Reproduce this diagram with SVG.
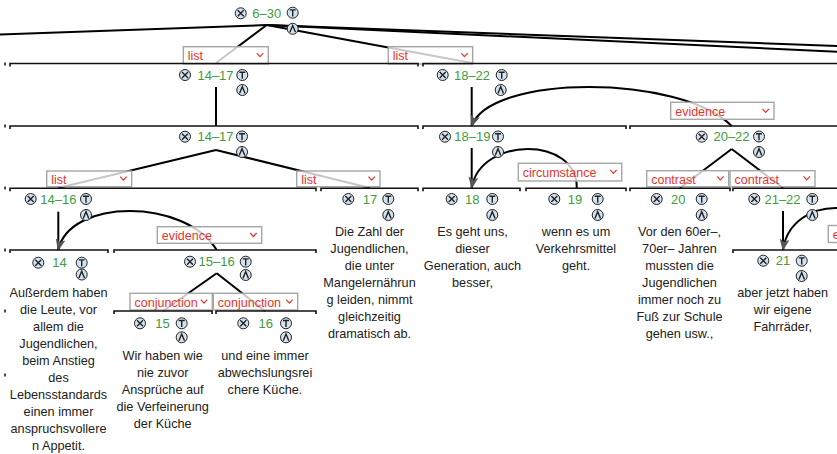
<svg xmlns="http://www.w3.org/2000/svg" width="837" height="454" viewBox="0 0 837 454">
<style>
text{font-family:"Liberation Sans",Arial,sans-serif}
.num{font-size:13px;fill:#3f9b3f;text-anchor:middle}
.edu{font-size:12.7px;fill:#222;text-anchor:middle}
.rl{font-size:12.5px;fill:#e8332b}
.bar{fill:none;stroke:#111;stroke-width:1.6}
.tk{fill:none;stroke:#111;stroke-width:1.5}
.ln{fill:none;stroke:#000;stroke-width:2}
.arc{fill:none;stroke:#000;stroke-width:2;marker-end:url(#arr)}
.box{fill:#fff;fill-opacity:0.78;stroke:#a6a6a6;stroke-width:1.4}
.chev{fill:none;stroke:#e8332b;stroke-width:1.2}
.ic{fill:#d3e2ef;stroke:#222;stroke-width:1}
.ig{fill:none;stroke:#222;stroke-width:1.4}
</style>
<defs>
<marker id="arr" viewBox="0 0 12 10" refX="11" refY="5" markerWidth="12" markerHeight="10" markerUnits="userSpaceOnUse" orient="auto"><path d="M0,0 L12,5 L0,10 L3,5 z" fill="#555"/></marker>
<g id="ix"><circle class="ic" r="5.5"/><path class="ig" d="M-3,-3 L3,3 M3,-3 L-3,3"/></g>
<g id="it"><circle class="ic" r="5.5"/><path class="ig" d="M-3,-2.8 H3 M0,-2.8 V3.8"/></g>
<g id="il"><circle class="ic" r="5.5"/><path class="ig" d="M-2.8,3.5 L0,-3.3 L2.8,3.5"/></g>
</defs>
<rect width="837" height="454" fill="#fff"/>

<g id="connectors">
  <!-- margin ticks -->
  <path class="tk" d="M5,62.5 v3 M5,124.5 v3 M5,186.5 v3 M5,248.5 v3 M5,309.5 v3 M5,373.5 v3"/>
  <!-- root lines -->
  <path class="ln" d="M266.7,25 L-10,34.8"/>
  <path class="ln" d="M266.7,25 L900,48.3"/>
  <path class="ln" d="M266.7,25 L900,54.7"/>
  <path class="ln" d="M266.7,25 L216,63"/>
  <path class="ln" d="M266.7,25 L472,63"/>
  <!-- span verticals -->
  <path class="ln" d="M216,87 V126"/>
  <path class="ln" d="M471.7,87 V126"/>
  <path class="ln" d="M471.7,148 V188"/>
  <path class="ln" d="M58.3,211.7 V250"/>
  <path class="ln" d="M783,211 V250"/>
  <!-- multinuc lines -->
  <path class="ln" d="M216,150 L58,188 M216,150 L370,188"/>
  <path class="ln" d="M731.7,149 L680,188 M731.7,149 L783,188"/>
  <path class="ln" d="M216.7,273.3 L163,311 M216.7,273.3 L265,311"/>
  <!-- arcs -->
  <path class="arc" d="M731.7,126 C680,74 490,74 471.7,126"/>
  <path class="arc" d="M576.7,188 C578,136 480,136 471.7,188"/>
  <path class="arc" d="M216.7,250 C185,198 69.4,198 58.3,250"/>
  <path class="arc" d="M890,250 C880,194 791,194 783,250"/>
  <!-- relation boxes -->
  <g id="rel-list-1417"><rect class="box" x="183.3" y="46.7" width="85" height="17.3"/><text class="rl" x="187.8" y="60.3">list</text><path class="chev" d="M256.8,53.2 L260,56.7 L263.2,53.2"/></g>
  <g id="rel-list-1822"><rect class="box" x="388.3" y="46.7" width="84.4" height="17.3"/><text class="rl" x="392.8" y="60.3">list</text><path class="chev" d="M461.2,53.2 L464.4,56.7 L467.6,53.2"/></g>
  <g id="rel-evidence-2022"><rect class="box" x="670.7" y="102.3" width="103.3" height="17"/><text class="rl" x="675.2" y="115.8">evidence</text><path class="chev" d="M762.5,108.8 L765.7,112.3 L768.9,108.8"/></g>
  <g id="rel-list-1416"><rect class="box" x="46.7" y="171" width="85" height="15.7"/><text class="rl" x="51.2" y="183.6">list</text><path class="chev" d="M120.2,176.7 L123.4,180.2 L126.6,176.7"/></g>
  <g id="rel-list-17"><rect class="box" x="296.7" y="171" width="83.3" height="15.7"/><text class="rl" x="301.2" y="183.6">list</text><path class="chev" d="M368.5,176.7 L371.7,180.2 L374.9,176.7"/></g>
  <g id="rel-circ-19"><rect class="box" x="518.3" y="163.3" width="103.4" height="17.7"/><text class="rl" x="522.8" y="177">circumstance</text><path class="chev" d="M610.2,169.8 L613.4,173.3 L616.6,169.8"/></g>
  <g id="rel-contrast-20"><rect class="box" x="646.7" y="170.7" width="82" height="16"/><text class="rl" x="651.2" y="183.5">contrast</text><path class="chev" d="M717.2,176.3 L720.4,179.8 L723.6,176.3"/></g>
  <g id="rel-contrast-2122"><rect class="box" x="730" y="170.7" width="85" height="16"/><text class="rl" x="734.5" y="183.5">contrast</text><path class="chev" d="M803.5,176.3 L806.7,179.8 L809.9,176.3"/></g>
  <g id="rel-evidence-1516"><rect class="box" x="157.3" y="226.7" width="104.4" height="16.6"/><text class="rl" x="161.8" y="240">evidence</text><path class="chev" d="M250.2,233 L253.4,236.5 L256.6,233"/></g>
  <g id="rel-conj-15"><rect class="box" x="130" y="293.3" width="82.3" height="16.7"/><text class="rl" x="134.5" y="306.6">conjunction</text><path class="chev" d="M200.8,299.6 L204,303.1 L207.2,299.6"/></g>
  <g id="rel-conj-16"><rect class="box" x="213.3" y="293.3" width="84.4" height="16.7"/><text class="rl" x="217.8" y="306.6">conjunction</text><path class="chev" d="M286.2,299.6 L289.4,303.1 L292.6,299.6"/></g>
  <g id="rel-edge"><rect class="box" x="828.3" y="225.5" width="40" height="17"/><text class="rl" x="832.8" y="238.8">evidence</text></g>
</g>

<g id="node-6-30"><use href="#ix" x="240.7" y="13.3"/><text class="num" x="266.7" y="18">6–30</text><use href="#it" x="292.7" y="12.7"/><use href="#il" x="292.7" y="28.8"/></g>

<g id="node-14-17-span"><path class="bar" d="M10,66.5 V63.5 H418 V66.5"/><use href="#ix" x="185" y="75"/><text class="num" x="215.5" y="79.7">14–17</text><use href="#it" x="242.3" y="75"/><use href="#il" x="242.3" y="90"/></g>
<g id="node-18-22"><path class="bar" d="M423,66.5 V63.5 H850"/><use href="#ix" x="442.7" y="75"/><text class="num" x="472" y="79.7">18–22</text><use href="#it" x="501.7" y="75"/><use href="#il" x="500.7" y="90"/></g>

<g id="node-14-17"><path class="bar" d="M10,129 V126 H418 V129"/><use href="#ix" x="185" y="136.7"/><text class="num" x="215.5" y="141.4">14–17</text><use href="#it" x="242" y="136.5"/><use href="#il" x="242" y="152"/></g>
<g id="node-18-19"><path class="bar" d="M423,129 V126 H626 V129"/><use href="#ix" x="445" y="136.7"/><text class="num" x="472.3" y="141.4">18–19</text><use href="#it" x="498" y="136.5"/><use href="#il" x="498" y="152"/></g>
<g id="node-20-22"><path class="bar" d="M630,129 V126 H850"/><use href="#ix" x="701.7" y="136.7"/><text class="num" x="731.5" y="141.4">20–22</text><use href="#it" x="759" y="136.5"/><use href="#il" x="759" y="152"/></g>

<g id="node-14-16"><path class="bar" d="M10,191.3 V188.3 H316 V191.3"/><use href="#ix" x="30.7" y="199"/><text class="num" x="58.3" y="203.7">14–16</text><use href="#it" x="86" y="199"/><use href="#il" x="86" y="215"/></g>
<g id="node-17"><path class="bar" d="M321,191.3 V188.3 H418 V191.3"/><use href="#ix" x="348.3" y="199"/><text class="num" x="370" y="203.7">17</text><use href="#it" x="388.3" y="199"/><use href="#il" x="388.3" y="215"/>
<text class="edu" x="369.5" y="235.5">Die Zahl der</text><text class="edu" x="369.5" y="252.5">Jugendlichen,</text><text class="edu" x="369.5" y="269.5">die unter</text><text class="edu" x="369.5" y="286.5">Mangelernährun</text><text class="edu" x="369.5" y="303.5">g leiden, nimmt</text><text class="edu" x="369.5" y="320.5">gleichzeitig</text><text class="edu" x="369.5" y="337.5">dramatisch ab.</text></g>
<g id="node-18"><path class="bar" d="M423,191.3 V188.3 H520 V191.3"/><use href="#ix" x="451.7" y="199"/><text class="num" x="472.3" y="203.7">18</text><use href="#it" x="492.3" y="199"/><use href="#il" x="492.3" y="215"/>
<text class="edu" x="472.5" y="236">Es geht uns,</text><text class="edu" x="472.5" y="253">dieser</text><text class="edu" x="472.5" y="270">Generation, auch</text><text class="edu" x="472.5" y="287">besser,</text></g>
<g id="node-19"><path class="bar" d="M526,191.3 V188.3 H626 V191.3"/><use href="#ix" x="554.3" y="199"/><text class="num" x="575" y="203.7">19</text><use href="#it" x="597.7" y="199"/><use href="#il" x="597.7" y="215"/>
<text class="edu" x="576" y="236">wenn es um</text><text class="edu" x="576" y="253">Verkehrsmittel</text><text class="edu" x="576" y="270">geht.</text></g>
<g id="node-20"><path class="bar" d="M630,191.3 V188.3 H730 V191.3"/><use href="#ix" x="656.7" y="199"/><text class="num" x="678.3" y="203.7">20</text><use href="#it" x="701.7" y="199"/><use href="#il" x="701.7" y="215"/>
<text class="edu" x="679.5" y="236">Vor den 60er–,</text><text class="edu" x="679.5" y="253">70er– Jahren</text><text class="edu" x="679.5" y="270">mussten die</text><text class="edu" x="679.5" y="287">Jugendlichen</text><text class="edu" x="679.5" y="304">immer noch zu</text><text class="edu" x="679.5" y="321">Fuß zur Schule</text><text class="edu" x="679.5" y="338">gehen usw.,</text></g>
<g id="node-21-22"><path class="bar" d="M733,191.3 V188.3 H850"/><use href="#ix" x="754.3" y="199"/><text class="num" x="782.5" y="203.7">21–22</text><use href="#it" x="812.3" y="199"/><use href="#il" x="812.3" y="215"/></g>

<g id="node-14"><path class="bar" d="M10,253 V250 H108 V253"/><use href="#ix" x="38.3" y="262.7"/><text class="num" x="59.5" y="267.4">14</text><use href="#it" x="81.7" y="262.7"/><use href="#il" x="81.7" y="274.5"/>
<text class="edu" x="58.5" y="297.3">Außerdem haben</text><text class="edu" x="58.5" y="314.3">die Leute, vor</text><text class="edu" x="58.5" y="331.3">allem die</text><text class="edu" x="58.5" y="348.3">Jugendlichen,</text><text class="edu" x="58.5" y="365.3">beim Anstieg</text><text class="edu" x="58.5" y="382.3">des</text><text class="edu" x="58.5" y="399.3">Lebensstandards</text><text class="edu" x="58.5" y="416.3">einen immer</text><text class="edu" x="58.5" y="433.3">anspruchsvollere</text><text class="edu" x="58.5" y="450.3">n Appetit.</text></g>
<g id="node-15-16"><path class="bar" d="M114,253 V250 H316 V253"/><use href="#ix" x="190" y="261.7"/><text class="num" x="216.7" y="266.4">15–16</text><use href="#it" x="245.7" y="261.7"/><use href="#il" x="245.7" y="275"/></g>
<g id="node-21"><path class="bar" d="M733,253 V250 H850"/><use href="#ix" x="763.3" y="260.7"/><text class="num" x="783" y="265.4">21</text><use href="#it" x="801.7" y="260.7"/><use href="#il" x="801.7" y="276"/>
<text class="edu" x="782.7" y="297.2">aber jetzt haben</text><text class="edu" x="782.7" y="314.2">wir eigene</text><text class="edu" x="782.7" y="331.2">Fahrräder,</text></g>

<g id="node-15"><path class="bar" d="M114,314 V311 H212 V314"/><use href="#ix" x="140" y="323.3"/><text class="num" x="162.5" y="328">15</text><use href="#it" x="181.7" y="323.3"/><use href="#il" x="181.7" y="337.3"/>
<text class="edu" x="162.7" y="359.5">Wir haben wie</text><text class="edu" x="162.7" y="376.5">nie zuvor</text><text class="edu" x="162.7" y="393.5">Ansprüche auf</text><text class="edu" x="162.7" y="410.5">die Verfeinerung</text><text class="edu" x="162.7" y="427.5">der Küche</text></g>
<g id="node-16"><path class="bar" d="M216,314 V311 H316 V314"/><use href="#ix" x="243.3" y="323.3"/><text class="num" x="265.8" y="328">16</text><use href="#it" x="286" y="323.3"/><use href="#il" x="286" y="337.3"/>
<text class="edu" x="265" y="359.5">und eine immer</text><text class="edu" x="265" y="376.5">abwechslungsrei</text><text class="edu" x="265" y="393.5">chere Küche.</text></g>
</svg>
